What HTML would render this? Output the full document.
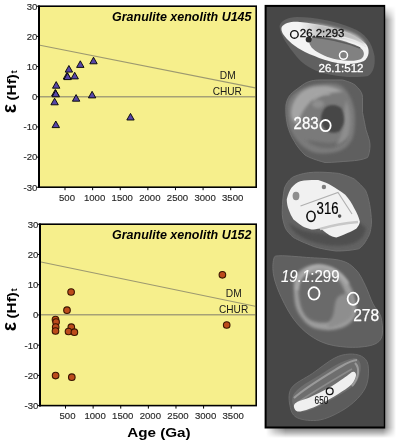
<!DOCTYPE html>
<html><head><meta charset="utf-8"><style>
html,body{margin:0;padding:0;background:#fff;width:400px;height:441px;overflow:hidden}
svg{display:block;will-change:transform}
text{font-family:"Liberation Sans", sans-serif}
</style></head><body>
<svg width="400" height="441" viewBox="0 0 400 441">
<rect width="400" height="441" fill="#fff"/>
<rect x="39.0" y="6.2" width="217.2" height="181.0" fill="#f6ef8c"/>
<line x1="40.0" y1="45.3" x2="255.2" y2="87.9" stroke="#9d9970" stroke-width="1.1"/>
<line x1="40.0" y1="96.7" x2="255.2" y2="96.7" stroke="#a6a176" stroke-width="1.5"/>
<text x="112" y="21.2" font-size="12.6" font-weight="bold" font-style="italic" fill="#000" textLength="139.5" lengthAdjust="spacingAndGlyphs">Granulite xenolith U145</text>
<text x="219.8" y="78.7" font-size="10.2" fill="#1a1a1a" textLength="15.9" lengthAdjust="spacingAndGlyphs">DM</text>
<text x="212.7" y="95.0" font-size="10.2" fill="#1a1a1a" textLength="29.2" lengthAdjust="spacingAndGlyphs">CHUR</text>
<path d="M93.50,57.20 L97.20,63.80 L89.80,63.80 Z" fill="#5746a8" stroke="#000" stroke-width="0.9" stroke-linejoin="miter"/>
<path d="M80.30,60.80 L84.00,67.40 L76.60,67.40 Z" fill="#5746a8" stroke="#000" stroke-width="0.9" stroke-linejoin="miter"/>
<path d="M68.90,65.50 L72.60,72.10 L65.20,72.10 Z" fill="#5746a8" stroke="#000" stroke-width="0.9" stroke-linejoin="miter"/>
<path d="M67.00,72.40 L70.70,79.00 L63.30,79.00 Z" fill="#5746a8" stroke="#000" stroke-width="0.9" stroke-linejoin="miter"/>
<path d="M67.60,73.00 L71.30,79.60 L63.90,79.60 Z" fill="#5746a8" stroke="#000" stroke-width="0.9" stroke-linejoin="miter"/>
<path d="M74.70,72.30 L78.40,78.90 L71.00,78.90 Z" fill="#5746a8" stroke="#000" stroke-width="0.9" stroke-linejoin="miter"/>
<path d="M56.20,81.60 L59.90,88.20 L52.50,88.20 Z" fill="#5746a8" stroke="#000" stroke-width="0.9" stroke-linejoin="miter"/>
<path d="M55.30,89.40 L59.00,96.00 L51.60,96.00 Z" fill="#5746a8" stroke="#000" stroke-width="0.9" stroke-linejoin="miter"/>
<path d="M55.80,90.20 L59.50,96.80 L52.10,96.80 Z" fill="#5746a8" stroke="#000" stroke-width="0.9" stroke-linejoin="miter"/>
<path d="M54.60,98.20 L58.30,104.80 L50.90,104.80 Z" fill="#5746a8" stroke="#000" stroke-width="0.9" stroke-linejoin="miter"/>
<path d="M76.10,94.60 L79.80,101.20 L72.40,101.20 Z" fill="#5746a8" stroke="#000" stroke-width="0.9" stroke-linejoin="miter"/>
<path d="M92.10,91.30 L95.80,97.90 L88.40,97.90 Z" fill="#5746a8" stroke="#000" stroke-width="0.9" stroke-linejoin="miter"/>
<path d="M55.80,121.00 L59.50,127.60 L52.10,127.60 Z" fill="#5746a8" stroke="#000" stroke-width="0.9" stroke-linejoin="miter"/>
<path d="M130.50,113.40 L134.20,120.00 L126.80,120.00 Z" fill="#5746a8" stroke="#000" stroke-width="0.9" stroke-linejoin="miter"/>
<rect x="39.0" y="6.2" width="217.2" height="181.0" fill="none" stroke="#000" stroke-width="1.6"/>
<line x1="39.0" y1="5.4" x2="39.0" y2="188.0" stroke="#000" stroke-width="2"/>
<line x1="36.5" y1="6.25" x2="39.0" y2="6.25" stroke="#000" stroke-width="1"/>
<text x="37.4" y="9.65" text-anchor="end" font-size="9.6" fill="#2a2a2a" stroke="#2a2a2a" stroke-width="0.15">30</text>
<line x1="36.5" y1="36.41666666666667" x2="39.0" y2="36.41666666666667" stroke="#000" stroke-width="1"/>
<text x="37.4" y="39.81666666666667" text-anchor="end" font-size="9.6" fill="#2a2a2a" stroke="#2a2a2a" stroke-width="0.15">20</text>
<line x1="36.5" y1="66.58333333333334" x2="39.0" y2="66.58333333333334" stroke="#000" stroke-width="1"/>
<text x="37.4" y="69.98333333333335" text-anchor="end" font-size="9.6" fill="#2a2a2a" stroke="#2a2a2a" stroke-width="0.15">10</text>
<line x1="36.5" y1="96.75" x2="39.0" y2="96.75" stroke="#000" stroke-width="1"/>
<text x="37.4" y="100.15" text-anchor="end" font-size="9.6" fill="#2a2a2a" stroke="#2a2a2a" stroke-width="0.15">0</text>
<line x1="36.5" y1="126.91666666666667" x2="39.0" y2="126.91666666666667" stroke="#000" stroke-width="1"/>
<text x="37.4" y="130.31666666666666" text-anchor="end" font-size="9.6" fill="#2a2a2a" stroke="#2a2a2a" stroke-width="0.15">-10</text>
<line x1="36.5" y1="157.08333333333334" x2="39.0" y2="157.08333333333334" stroke="#000" stroke-width="1"/>
<text x="37.4" y="160.48333333333335" text-anchor="end" font-size="9.6" fill="#2a2a2a" stroke="#2a2a2a" stroke-width="0.15">-20</text>
<line x1="36.5" y1="187.25" x2="39.0" y2="187.25" stroke="#000" stroke-width="1"/>
<text x="37.4" y="190.65" text-anchor="end" font-size="9.6" fill="#2a2a2a" stroke="#2a2a2a" stroke-width="0.15">-30</text>
<line x1="65.015" y1="187.2" x2="65.015" y2="190.2" stroke="#000" stroke-width="1"/>
<text x="67.015" y="200.79999999999998" text-anchor="middle" font-size="9.6" fill="#2a2a2a" stroke="#2a2a2a" stroke-width="0.15">500</text>
<line x1="92.63" y1="187.2" x2="92.63" y2="190.2" stroke="#000" stroke-width="1"/>
<text x="94.63" y="200.79999999999998" text-anchor="middle" font-size="9.6" fill="#2a2a2a" stroke="#2a2a2a" stroke-width="0.15">1000</text>
<line x1="120.245" y1="187.2" x2="120.245" y2="190.2" stroke="#000" stroke-width="1"/>
<text x="122.245" y="200.79999999999998" text-anchor="middle" font-size="9.6" fill="#2a2a2a" stroke="#2a2a2a" stroke-width="0.15">1500</text>
<line x1="147.86" y1="187.2" x2="147.86" y2="190.2" stroke="#000" stroke-width="1"/>
<text x="149.86" y="200.79999999999998" text-anchor="middle" font-size="9.6" fill="#2a2a2a" stroke="#2a2a2a" stroke-width="0.15">2000</text>
<line x1="175.47500000000002" y1="187.2" x2="175.47500000000002" y2="190.2" stroke="#000" stroke-width="1"/>
<text x="177.47500000000002" y="200.79999999999998" text-anchor="middle" font-size="9.6" fill="#2a2a2a" stroke="#2a2a2a" stroke-width="0.15">2500</text>
<line x1="203.09" y1="187.2" x2="203.09" y2="190.2" stroke="#000" stroke-width="1"/>
<text x="205.09" y="200.79999999999998" text-anchor="middle" font-size="9.6" fill="#2a2a2a" stroke="#2a2a2a" stroke-width="0.15">3000</text>
<line x1="230.705" y1="187.2" x2="230.705" y2="190.2" stroke="#000" stroke-width="1"/>
<text x="232.705" y="200.79999999999998" text-anchor="middle" font-size="9.6" fill="#2a2a2a" stroke="#2a2a2a" stroke-width="0.15">3500</text>
<rect x="40.0" y="224.2" width="216.2" height="181.40000000000003" fill="#f6ef8c"/>
<line x1="41.0" y1="262.0" x2="255.2" y2="306.3" stroke="#9d9970" stroke-width="1.1"/>
<line x1="41.0" y1="314.8" x2="255.2" y2="314.8" stroke="#a6a176" stroke-width="1.5"/>
<text x="112" y="239.2" font-size="12.6" font-weight="bold" font-style="italic" fill="#000" textLength="139.5" lengthAdjust="spacingAndGlyphs">Granulite xenolith U152</text>
<text x="225.8" y="297.1" font-size="10.2" fill="#1a1a1a" textLength="15.9" lengthAdjust="spacingAndGlyphs">DM</text>
<text x="219.0" y="313.3" font-size="10.2" fill="#1a1a1a" textLength="29.2" lengthAdjust="spacingAndGlyphs">CHUR</text>
<circle cx="71.1" cy="292.0" r="3.3" fill="#bc4b1b" stroke="#3a1400" stroke-width="1.1"/>
<circle cx="67.0" cy="310.2" r="3.3" fill="#bc4b1b" stroke="#3a1400" stroke-width="1.1"/>
<circle cx="55.5" cy="319.5" r="3.3" fill="#bc4b1b" stroke="#3a1400" stroke-width="1.1"/>
<circle cx="56.1" cy="322.0" r="3.3" fill="#bc4b1b" stroke="#3a1400" stroke-width="1.1"/>
<circle cx="55.7" cy="327.0" r="3.3" fill="#bc4b1b" stroke="#3a1400" stroke-width="1.1"/>
<circle cx="55.5" cy="331.0" r="3.3" fill="#bc4b1b" stroke="#3a1400" stroke-width="1.1"/>
<circle cx="71.3" cy="327.2" r="3.3" fill="#bc4b1b" stroke="#3a1400" stroke-width="1.1"/>
<circle cx="68.5" cy="331.5" r="3.3" fill="#bc4b1b" stroke="#3a1400" stroke-width="1.1"/>
<circle cx="74.4" cy="332.2" r="3.3" fill="#bc4b1b" stroke="#3a1400" stroke-width="1.1"/>
<circle cx="55.6" cy="375.6" r="3.3" fill="#bc4b1b" stroke="#3a1400" stroke-width="1.1"/>
<circle cx="71.8" cy="377.2" r="3.3" fill="#bc4b1b" stroke="#3a1400" stroke-width="1.1"/>
<circle cx="222.4" cy="274.8" r="3.3" fill="#bc4b1b" stroke="#3a1400" stroke-width="1.1"/>
<circle cx="226.7" cy="325.0" r="3.3" fill="#bc4b1b" stroke="#3a1400" stroke-width="1.1"/>
<rect x="40.0" y="224.2" width="216.2" height="181.40000000000003" fill="none" stroke="#000" stroke-width="1.6"/>
<line x1="40.0" y1="223.39999999999998" x2="40.0" y2="406.40000000000003" stroke="#000" stroke-width="2"/>
<line x1="37.5" y1="224.25" x2="40.0" y2="224.25" stroke="#000" stroke-width="1"/>
<text x="38.4" y="227.65" text-anchor="end" font-size="9.6" fill="#2a2a2a" stroke="#2a2a2a" stroke-width="0.15">30</text>
<line x1="37.5" y1="254.475" x2="40.0" y2="254.475" stroke="#000" stroke-width="1"/>
<text x="38.4" y="257.875" text-anchor="end" font-size="9.6" fill="#2a2a2a" stroke="#2a2a2a" stroke-width="0.15">20</text>
<line x1="37.5" y1="284.7" x2="40.0" y2="284.7" stroke="#000" stroke-width="1"/>
<text x="38.4" y="288.09999999999997" text-anchor="end" font-size="9.6" fill="#2a2a2a" stroke="#2a2a2a" stroke-width="0.15">10</text>
<line x1="37.5" y1="314.925" x2="40.0" y2="314.925" stroke="#000" stroke-width="1"/>
<text x="38.4" y="318.325" text-anchor="end" font-size="9.6" fill="#2a2a2a" stroke="#2a2a2a" stroke-width="0.15">0</text>
<line x1="37.5" y1="345.15000000000003" x2="40.0" y2="345.15000000000003" stroke="#000" stroke-width="1"/>
<text x="38.4" y="348.55" text-anchor="end" font-size="9.6" fill="#2a2a2a" stroke="#2a2a2a" stroke-width="0.15">-10</text>
<line x1="37.5" y1="375.375" x2="40.0" y2="375.375" stroke="#000" stroke-width="1"/>
<text x="38.4" y="378.775" text-anchor="end" font-size="9.6" fill="#2a2a2a" stroke="#2a2a2a" stroke-width="0.15">-20</text>
<line x1="37.5" y1="405.6" x2="40.0" y2="405.6" stroke="#000" stroke-width="1"/>
<text x="38.4" y="409.0" text-anchor="end" font-size="9.6" fill="#2a2a2a" stroke="#2a2a2a" stroke-width="0.15">-30</text>
<line x1="65.515" y1="405.6" x2="65.515" y2="408.6" stroke="#000" stroke-width="1"/>
<text x="67.515" y="419.20000000000005" text-anchor="middle" font-size="9.6" fill="#2a2a2a" stroke="#2a2a2a" stroke-width="0.15">500</text>
<line x1="93.13" y1="405.6" x2="93.13" y2="408.6" stroke="#000" stroke-width="1"/>
<text x="95.13" y="419.20000000000005" text-anchor="middle" font-size="9.6" fill="#2a2a2a" stroke="#2a2a2a" stroke-width="0.15">1000</text>
<line x1="120.745" y1="405.6" x2="120.745" y2="408.6" stroke="#000" stroke-width="1"/>
<text x="122.745" y="419.20000000000005" text-anchor="middle" font-size="9.6" fill="#2a2a2a" stroke="#2a2a2a" stroke-width="0.15">1500</text>
<line x1="148.36" y1="405.6" x2="148.36" y2="408.6" stroke="#000" stroke-width="1"/>
<text x="150.36" y="419.20000000000005" text-anchor="middle" font-size="9.6" fill="#2a2a2a" stroke="#2a2a2a" stroke-width="0.15">2000</text>
<line x1="175.97500000000002" y1="405.6" x2="175.97500000000002" y2="408.6" stroke="#000" stroke-width="1"/>
<text x="177.97500000000002" y="419.20000000000005" text-anchor="middle" font-size="9.6" fill="#2a2a2a" stroke="#2a2a2a" stroke-width="0.15">2500</text>
<line x1="203.59" y1="405.6" x2="203.59" y2="408.6" stroke="#000" stroke-width="1"/>
<text x="205.59" y="419.20000000000005" text-anchor="middle" font-size="9.6" fill="#2a2a2a" stroke="#2a2a2a" stroke-width="0.15">3000</text>
<line x1="231.205" y1="405.6" x2="231.205" y2="408.6" stroke="#000" stroke-width="1"/>
<text x="233.205" y="419.20000000000005" text-anchor="middle" font-size="9.6" fill="#2a2a2a" stroke="#2a2a2a" stroke-width="0.15">3500</text>
<g transform="translate(15.9,112) rotate(-90)"><text x="-1.2" y="0" font-size="19.5" font-weight="bold" fill="#000">&#949;</text><text x="11.5" y="0" font-size="13.6" font-weight="bold" fill="#000" textLength="26.4" lengthAdjust="spacingAndGlyphs">(Hf)</text><text x="38.8" y="1.2" font-size="8.5" font-weight="bold" fill="#000">t</text></g>
<g transform="translate(15.9,330) rotate(-90)"><text x="-1.2" y="0" font-size="19.5" font-weight="bold" fill="#000">&#949;</text><text x="11.5" y="0" font-size="13.6" font-weight="bold" fill="#000" textLength="26.4" lengthAdjust="spacingAndGlyphs">(Hf)</text><text x="38.8" y="1.2" font-size="8.5" font-weight="bold" fill="#000">t</text></g>
<text x="127.2" y="437" font-size="13.6" font-weight="bold" fill="#000" textLength="63.4" lengthAdjust="spacingAndGlyphs">Age (Ga)</text>
<defs>
<linearGradient id="shR" x1="0" x2="1" y1="0" y2="0"><stop offset="0" stop-color="#7f7b7d"/><stop offset="0.45" stop-color="#b9b7b8"/><stop offset="1" stop-color="#fff"/></linearGradient>
<linearGradient id="shB" x1="0" x2="0" y1="0" y2="1"><stop offset="0" stop-color="#7f7b7d"/><stop offset="0.45" stop-color="#b9b7b8"/><stop offset="1" stop-color="#fff"/></linearGradient>
<filter id="bl1" x="-20%" y="-20%" width="140%" height="140%"><feGaussianBlur stdDeviation="0.7"/></filter>
<filter id="bl2" x="-20%" y="-20%" width="140%" height="140%"><feGaussianBlur stdDeviation="1.4"/></filter>
<filter id="bl3" x="-20%" y="-20%" width="140%" height="140%"><feGaussianBlur stdDeviation="2.5"/></filter>
<clipPath id="pc"><rect x="266.6" y="6.9" width="117" height="419.6"/></clipPath>
</defs>
<linearGradient id="hg" gradientUnits="userSpaceOnUse" x1="266" y1="0" x2="396" y2="0">
<stop offset="0" stop-color="#000" stop-opacity="0"/>
<stop offset="0.07" stop-color="#000" stop-opacity="0.3"/>
<stop offset="0.15" stop-color="#000" stop-opacity="0.52"/>
<stop offset="0.9" stop-color="#000" stop-opacity="0.52"/>
<stop offset="0.95" stop-color="#000" stop-opacity="0.25"/>
<stop offset="1" stop-color="#000" stop-opacity="0"/>
</linearGradient>
<linearGradient id="vg" gradientUnits="userSpaceOnUse" x1="0" y1="6" x2="0" y2="438">
<stop offset="0" stop-color="#000"/>
<stop offset="0.015" stop-color="#777"/>
<stop offset="0.032" stop-color="#fff"/>
<stop offset="0.976" stop-color="#fff"/>
<stop offset="0.988" stop-color="#888"/>
<stop offset="1" stop-color="#000"/>
</linearGradient>
<mask id="vm" maskUnits="userSpaceOnUse" x="0" y="0" width="400" height="441"><rect x="0" y="0" width="400" height="441" fill="url(#vg)"/></mask>
<rect x="266" y="6" width="130" height="432" fill="url(#hg)" mask="url(#vm)"/>
<rect x="264.6" y="4.9" width="120.6" height="423.6" fill="#000"/>
<rect x="266.6" y="6.9" width="117.2" height="419.6" fill="#474747"/>
<g clip-path="url(#pc)">
<!-- zircon 1 -->
<path d="M279.5,26 C281,20 288,17.5 297,17 C315,17 335,21 352,28 C365,33 372,42 374.5,56 C375.5,66 373,73 368,76 C355,78 335,77 320,72 C308,68 300,62 293,52 C286,43 280,34 279.5,26 Z" fill="#606060" filter="url(#bl1)"/>
<path d="M281.7,27 C284,23 290,21.5 297.5,21.7 C310,22.5 322,25 335,28.5 C348,32 360,38 366,44 C370,49 369.5,57 364,61 C358,64 348,64.5 340,63.5 C330,62 318,58 305,52 C295,47 287,40 283,34 C281.5,31 281,29 281.7,27 Z" fill="#f3f3f3" filter="url(#bl1)"/>
<linearGradient id="tsg" gradientUnits="userSpaceOnUse" x1="300" y1="0" x2="322" y2="0"><stop offset="0" stop-color="#bdbdbd" stop-opacity="0"/><stop offset="1" stop-color="#bdbdbd" stop-opacity="1"/></linearGradient>
<path d="M300,22 C318,23 335,27 350,32 C358,35 364,40 366,45 C360,42 350,39 340,38 C328,36 316,36 303,37 C300,32 299,26 300,22 Z" fill="url(#tsg)" filter="url(#bl2)"/>
<path d="M338,36 C348,38 358,41 366,47" stroke="#e8e8e8" stroke-width="1.5" fill="none" filter="url(#bl1)"/>
<path d="M310,38.5 C313,36 320,36.5 328,37.5 C340,39.5 352,43 360,47.5 C365,51 365,56 361,59 C356,61.5 347,61 337,59.5 C327,57.5 320,54 315,50.5 C310,47 308,42 310,38.5 Z" fill="#818181" filter="url(#bl1)"/>
<path d="M312,37 C325,38 345,42 360,48" stroke="#5c5c5c" stroke-width="1.5" fill="none" filter="url(#bl1)"/>
<circle cx="308.7" cy="39.5" r="3" fill="#2e2e2e" filter="url(#bl1)"/>
<!-- zircon 2 -->
<path d="M302.5,85 C308,81 314,80 320,80 L342.5,80 C350,82 355,84 357.5,87.5 C361,91 362.5,94 362.5,97.5 L362.5,112.5 C364,120 365,125 366,130 C368,136 370,141 370,145 C370,150 369,155 367.5,157.5 C362,160 356,160.5 350,161 C342,161.5 333,162.5 325,162.5 C316,160 310,158 305,155 C300,150 297,146 295,142.5 C291,136 289,131 287.5,125 C286,118 285.5,111 286,105 C287,99 289.5,95 292.5,92.5 Z" stroke="#6e6e6e" stroke-width="1" fill="#5f5f5f" filter="url(#bl1)"/>
<path d="M288.6,100.4 C291.4,94.2 298.2,89.7 305.5,86.9 C312.8,84.1 325.8,83.0 332.5,83.5 C339.2,84.0 342.4,85.7 346.0,90.2 C349.6,94.7 353.3,102.6 354.4,110.5 C355.5,118.4 355.2,130.8 352.7,137.5 C350.2,144.2 345.5,148.5 339.3,151.0 C333.1,153.5 322.4,154.1 315.6,152.7 C308.8,151.3 303.2,147.3 298.8,142.5 C294.2,137.7 290.3,131.0 288.6,124.0 C286.9,117.0 285.8,106.6 288.6,100.4 Z" fill="#7a7a7a" filter="url(#bl2)"/>
<path d="M291,112 C292,100 300,90 312,87 C324,85 335,86 343,92 C332,92 322,94 314,99 C306,105 301,113 298,124 C293,123 291,118 291,112 Z" fill="#a4a4a4" filter="url(#bl2)"/>
<ellipse cx="318" cy="104" rx="6" ry="4" fill="#8e8e8e" filter="url(#bl2)"/>
<path d="M306,140 C312,146 322,149 332,148 C340,146 346,142 349,136 C342,142 330,144 320,142 Z" fill="#6a6a6a" filter="url(#bl2)"/>
<path d="M313,100 C318,95 324,93 330,94" stroke="#a8a8a8" stroke-width="2" fill="none" filter="url(#bl2)"/>
<path d="M346,100 C351,110 352,125 348,136 C345,141 340,144 336,145 C342,136 345,125 344,112 Z" fill="#8e8e8e" filter="url(#bl2)"/>
<path d="M323.75,107.5 C326,105 329,104 332.5,103.75 C337,104 340,105 342.5,107.5 C344.5,112 345.5,117 345,122.5 C344,127 342,130 340,132.5 C337,134 333,134 330,133.75 C326.5,132 324,130 322.5,127.5 C320.5,124 319.5,121 320,117.5 C320.5,113 322,110 323.75,107.5 Z" fill="#464646" filter="url(#bl2)" transform="translate(331.5 119.5) scale(0.92) translate(-331.5 -119.5)"/>
<!-- zircon 3 -->
<path d="M284.5,188 C287,182 290,179 293.5,176.75 C300,174 307,172.5 313.75,172.25 C322,172 330,172.5 338.5,173.4 C345,175 350,177 354.25,179 C359,183 362,186 365.5,190.25 C369,198 371,210 371.5,222 C371,230 370,234 367.75,237.5 C365,243 362,247 358.75,248.75 C351,250.5 343,251 336.25,251 C328,250 320,248.5 313.75,246.5 C305,243 298,240 293.5,237.5 C289.5,234 287,231 285.6,228.5 C283,222 282,216 282.25,210.5 C282.5,202 283,195 284.5,188 Z" stroke="#6e6e6e" stroke-width="1" fill="#626262" filter="url(#bl1)"/>
<path d="M288,222 C292,232 300,238 313,242 C325,246 340,247 352,244 C360,241 365,236 366,228 L358,221 C350,232 335,237 320,233 C305,232 295,228 288,222 Z" fill="#4f4f4f" filter="url(#bl2)"/>
<path d="M286.75,199.25 C288,194 289.5,191 291.25,188 C294,184.5 297,182.5 300.25,181.25 C306,180.2 312,180 318.25,180.1 C323,181.5 328,183.5 331.75,185.75 C336,188.5 341,191.5 345.25,194.75 C349,199 352,203.5 354.25,208.25 C357,213 359,217.5 359.9,221.75 C359.5,224.5 358,226.5 356.5,228.5 C353,230.5 350,232 347.5,233 C343,235 339,236.5 336.25,237.5 C333,236.8 331,236 329.5,235.25 C326,233 323,230.5 320.5,228.5 C317,229 314,229.5 311.5,229.6 C308,228.5 305,227.5 302.5,226.25 C299,224 296,221.5 293.5,219.5 C291.5,216.5 290,213.5 289,210.5 C287.5,207 286.8,203 286.75,199.25 Z" fill="#f1f1f1" filter="url(#bl1)"/>
<path d="M320,229 C330,226 345,223 358,222" stroke="#c8c8c8" stroke-width="2.5" fill="none" filter="url(#bl1)"/>
<path d="M300.5,206 L338,192.5 L352,214" fill="none" stroke="#b0b0b0" stroke-width="1.1" filter="url(#bl1)"/>
<ellipse cx="296" cy="196" rx="3.4" ry="4.2" fill="#8e8e8e" filter="url(#bl1)"/>
<circle cx="323.9" cy="187" r="2.2" fill="#7e7e7e" filter="url(#bl1)"/>
<circle cx="339.6" cy="216.1" r="1.8" fill="#555" filter="url(#bl1)"/>
<!-- zircon 4 -->
<path d="M273.8,259.0 C274.8,255.6 274.6,256.1 280.0,255.8 C285.4,255.6 296.2,256.6 306.3,257.4 C316.4,258.2 332.1,258.4 340.4,260.5 C348.7,262.6 351.8,265.7 355.9,269.8 C360.0,273.9 362.3,279.6 365.2,285.3 C368.1,291.0 370.4,298.7 373.0,303.9 C375.6,309.1 379.2,311.1 380.7,316.3 C382.2,321.5 383.2,330.2 382.2,334.9 C381.2,339.5 379.4,342.1 374.5,344.2 C369.6,346.3 360.6,347.3 352.8,347.3 C345.1,347.3 335.2,346.3 328.0,344.2 C320.8,342.1 315.1,339.0 309.4,334.9 C303.7,330.8 298.5,325.6 293.9,319.4 C289.2,313.2 284.9,304.9 281.5,297.7 C278.1,290.5 275.0,282.4 273.8,276.0 C272.5,269.6 272.7,262.4 273.8,259.0 Z" stroke="#6e6e6e" stroke-width="1" fill="#606060" filter="url(#bl1)"/>
<path d="M295.4,276.0 C297.5,271.9 301.9,268.5 306.3,266.7 C310.7,264.9 316.1,264.1 321.8,265.1 C327.5,266.1 335.2,268.5 340.4,272.9 C345.6,277.3 350.2,284.8 352.8,291.5 C355.4,298.2 356.9,307.5 355.9,313.2 C354.9,318.9 351.2,322.8 346.6,325.6 C342.0,328.4 334.2,330.2 328.0,330.2 C321.8,330.2 314.6,329.0 309.4,325.6 C304.2,322.2 299.6,315.8 297.0,310.1 C294.4,304.4 294.2,297.2 293.9,291.5 C293.6,285.8 293.3,280.1 295.4,276.0 Z" fill="#9c9c9c" filter="url(#bl2)"/>
<path d="M300.1,279.1 C303.2,273.9 312.5,272.9 318.7,272.9 C324.9,272.9 332.6,275.0 337.3,279.1 C342.0,283.2 345.6,292.0 346.6,297.7 C347.6,303.4 346.6,309.1 343.5,313.2 C340.4,317.3 333.7,321.5 328.0,322.5 C322.3,323.5 314.0,322.5 309.4,319.4 C304.8,316.3 301.7,310.6 300.1,303.9 C298.6,297.2 297.0,284.3 300.1,279.1 Z" fill="#6a6a6a" filter="url(#bl2)"/>
<path d="M337.3,297.7 C340.1,294.3 347.1,292.0 349.7,294.6 C352.3,297.2 353.8,308.6 352.8,313.2 C351.8,317.8 347.6,320.2 343.5,322.5 C339.4,324.8 329.8,328.4 328.0,327.1 C326.2,325.9 331.4,319.9 333.0,315.0 C334.6,310.1 334.5,301.1 337.3,297.7 Z" fill="#8e8e8e" filter="url(#bl2)"/>
<path d="M297,290 C298,278 305,268 318,266 C330,266 340,272 348,284" stroke="#b4b4b4" stroke-width="2.5" fill="none" filter="url(#bl2)"/>
<!-- zircon 5 -->
<path d="M291.4,388.2 C295.1,382.5 305.6,378.3 312.7,373.3 C319.8,368.3 328.0,361.6 334.0,358.4 C340.0,355.2 344.2,354.5 348.8,354.1 C353.4,353.8 358.4,354.5 361.6,356.3 C364.8,358.1 367.1,360.2 368.0,364.8 C368.9,369.4 368.7,378.2 366.9,383.9 C365.1,389.6 361.7,394.2 357.3,398.8 C352.9,403.4 346.7,408.1 340.3,411.6 C333.9,415.2 326.1,419.0 319.0,420.1 C311.9,421.2 302.6,420.1 297.8,418.0 C293.0,415.9 291.4,412.3 290.3,407.3 C289.2,402.3 287.7,393.9 291.4,388.2 Z" stroke="#6a6a6a" stroke-width="1" fill="#5c5c5c" filter="url(#bl1)"/>
<path d="M293.5,394.6 C295.1,391.8 297.8,389.2 302.0,386.0 C306.2,382.8 313.0,379.1 319.0,375.4 C325.0,371.7 332.5,366.5 338.2,363.7 C343.9,360.9 349.6,358.8 353.1,358.4 C356.7,358.0 358.3,359.5 359.5,361.6 C360.7,363.7 361.2,367.4 360.5,371.1 C359.8,374.8 358.6,380.0 355.2,383.9 C351.8,387.8 346.0,391.1 340.3,394.6 C334.6,398.2 327.2,402.4 321.2,405.2 C315.2,408.0 308.4,410.9 304.1,411.6 C299.8,412.3 297.6,410.8 295.6,409.4 C293.7,408.0 292.8,405.6 292.4,403.1 C292.0,400.6 291.9,397.5 293.5,394.6 Z" fill="#6e6e6e" filter="url(#bl1)"/>
<path d="M294,398 C305,388 322,378 340,367 C347,363 352,360 357,360" stroke="#9a9a9a" stroke-width="2.2" fill="none" filter="url(#bl1)"/>
<path d="M297,403 C310,394 328,383 352,369" stroke="#8a8a8a" stroke-width="1.6" fill="none" filter="url(#bl1)"/>
<path d="M355,363 C360,368 359,378 352,386" stroke="#9a9a9a" stroke-width="2" fill="none" filter="url(#bl1)"/>
<path d="M295.0,403.5 C297.3,401.2 305.1,399.5 310.5,397.0 C315.9,394.5 321.9,391.9 327.6,388.6 C333.3,385.4 340.4,380.3 344.6,377.5 C348.9,374.7 351.2,372.1 353.1,371.8 C355.0,371.5 356.3,373.4 356.0,375.5 C355.7,377.6 354.5,381.4 351.5,384.5 C348.5,387.6 343.2,390.8 338.2,394.0 C333.1,397.2 326.5,401.1 321.2,403.8 C315.9,406.5 310.4,408.8 306.3,410.0 C302.2,411.2 298.4,412.1 296.5,411.0 C294.6,409.9 292.7,405.8 295.0,403.5 Z" fill="#efefef" filter="url(#bl1)"/>
</g>
<!-- labels -->
<g font-family="Liberation Sans, sans-serif">
<circle cx="294.4" cy="34.4" r="3.8" fill="none" stroke="#111" stroke-width="1.4"/>
<text x="299.8" y="36.5" font-size="10.8" fill="#111" stroke="#111" stroke-width="0.3" textLength="44.6" lengthAdjust="spacingAndGlyphs">26.2:293</text>
<circle cx="343.5" cy="55.3" r="4" fill="none" stroke="#fff" stroke-width="1.5"/>
<text x="318.5" y="72.2" font-size="11.5" fill="#fff" stroke="#fff" stroke-width="0.3" textLength="45" lengthAdjust="spacingAndGlyphs">26.1:512</text>
<text x="293.6" y="129.2" font-size="16.6" fill="#fff" stroke="#fff" stroke-width="0.3" textLength="25" lengthAdjust="spacingAndGlyphs">283</text>
<ellipse cx="325.5" cy="125.6" rx="5.2" ry="5.6" fill="none" stroke="#fff" stroke-width="1.8"/>
<ellipse cx="311" cy="216.3" rx="4.1" ry="5.1" fill="none" stroke="#111" stroke-width="1.6"/>
<text x="316.6" y="214" font-size="16" fill="#000" stroke="#000" stroke-width="0.2" textLength="22" lengthAdjust="spacingAndGlyphs">316</text>
<text x="281" y="282.4" font-size="15.6" fill="#fff" stroke="#fff" stroke-width="0.1" textLength="58.5" lengthAdjust="spacingAndGlyphs"><tspan font-style="italic">19.1</tspan>:299</text>
<ellipse cx="314" cy="293.4" rx="5.5" ry="6.2" fill="none" stroke="#fff" stroke-width="1.8"/>
<ellipse cx="353.1" cy="298.8" rx="5.5" ry="6.1" fill="none" stroke="#fff" stroke-width="1.8"/>
<text x="353.2" y="320.6" font-size="17.2" fill="#fff" stroke="#fff" stroke-width="0.25" textLength="26" lengthAdjust="spacingAndGlyphs">278</text>
<circle cx="329.7" cy="391.2" r="3.4" fill="none" stroke="#111" stroke-width="1.3"/>
<text x="314.6" y="404.1" font-size="11.8" fill="#111" stroke="#111" stroke-width="0.15" textLength="13.8" lengthAdjust="spacingAndGlyphs">650</text>
</g>

</svg>
</body></html>
